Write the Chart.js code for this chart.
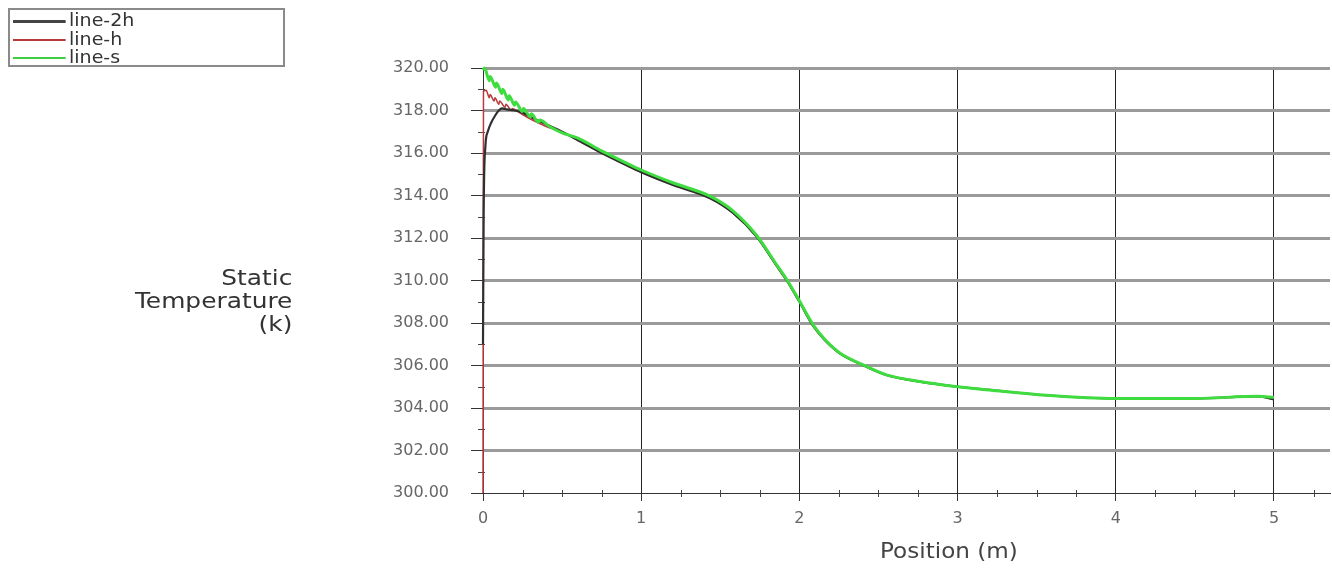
<!DOCTYPE html>
<html>
<head>
<meta charset="utf-8">
<script src="https://cdn.jsdelivr.net/npm/chart.js@4.4.0/dist/chart.umd.min.js"></script>
<style>
  body { margin: 0; background: #fff; }
  #wrap { position: relative; width: 1332px; height: 572px; font-family: "DejaVu Sans", sans-serif; }
  #legend { position: absolute; left: 8px; top: 8px; width: 273px; height: 55px; border: 2px solid #8a8a8a; }
  .row { position: absolute; left: 3px; height: 20px; font-size: 17px; line-height: 20px; color: #333; transform: scaleX(1.12); transform-origin: left center; white-space: nowrap; }
  .row span.sw { display: inline-block; width: 47px; vertical-align: middle; margin-right: 3px; }
  #ytitle { position: absolute; right: 1040px; top: 266px; text-align: right; font-size: 22px; line-height: 23px; color: #333; transform: scaleX(1.13); transform-origin: right center; }
  #xtitle { position: absolute; left: 880px; top: 538px; font-size: 22px; color: #444; transform: scaleX(1.05); transform-origin: left center; }
</style>
</head>
<body>
<div id="wrap">
  <canvas id="chart" width="1332" height="572"></canvas>
  <div id="legend">
    <div class="row" style="top:0px"><span class="sw" style="border-top:3px solid #444"></span>line-2h</div>
    <div class="row" style="top:19px"><span class="sw" style="border-top:2px solid #b83a3a"></span>line-h</div>
    <div class="row" style="top:37px"><span class="sw" style="border-top:2px solid #3fcf3f"></span>line-s</div>
  </div>
  <div id="ytitle">Static<br>Temperature<br>(k)</div>
  <div id="xtitle">Position (m)</div>
</div>
<script>
// shared positions of the part where the three curves overlap (after ~0.6 m)
const posTail = [0.6, 0.75, 0.9, 1.0, 1.2, 1.435, 1.58, 1.73, 1.86, 1.92, 2.0, 2.09, 2.24, 2.4, 2.55, 2.76, 3.0, 3.2, 3.56, 4.0, 4.5, 4.9, 5.0];
const tempTail = [316.6, 316.0, 315.45, 315.1, 314.5, 313.87, 313.18, 312.06, 310.65, 310.0, 309.0, 307.83, 306.65, 306.02, 305.55, 305.24, 305.0, 304.85, 304.6, 304.45, 304.45, 304.55, 304.4];
// line-s sits a touch above the others on the slope
const tempTailS = [316.7, 316.1, 315.55, 315.2, 314.6, 313.97, 313.28, 312.12, 310.7, 310.05, 309.05, 307.88, 306.68, 306.04, 305.56, 305.25, 305.0, 304.85, 304.6, 304.45, 304.45, 304.55, 304.5];

// start of each curve near the inlet
const pos2h = [0, 0.004, 0.015, 0.03, 0.05, 0.08, 0.1, 0.12, 0.15, 0.2, 0.25, 0.3, 0.4, 0.5];
const temp2h = [307.0, 313.0, 316.3, 317.0, 317.4, 317.8, 318.0, 318.1, 318.05, 318.0, 317.9, 317.7, 317.35, 317.0];

const posH = [0, 0.003, 0.02, 0.04, 0.045, 0.07, 0.075, 0.1, 0.105, 0.14, 0.145, 0.18, 0.185, 0.23, 0.3, 0.4, 0.5];
const tempH = [300, 318.9, 318.95, 318.6, 318.75, 318.45, 318.6, 318.3, 318.45, 318.15, 318.3, 318.0, 318.1, 317.9, 317.6, 317.25, 316.98];

const posS = [0, 0.01, 0.04, 0.045, 0.08, 0.085, 0.12, 0.125, 0.16, 0.165, 0.2, 0.205, 0.25, 0.255, 0.3, 0.305, 0.35, 0.36, 0.42, 0.5];
const tempS = [319.9, 320.0, 319.4, 319.6, 319.1, 319.3, 318.8, 319.0, 318.5, 318.7, 318.25, 318.4, 317.95, 318.1, 317.7, 317.85, 317.45, 317.55, 317.25, 316.95];

const yTicks = [300, 302, 304, 306, 308, 310, 312, 314, 316, 318, 320];
const xTicks = [0, 1, 2, 3, 4, 5];

function pts(xs, ys, tail) {
  const allY = ys.concat(tail);
  return xs.concat(posTail).map((x, i) => ({ x: x, y: allY[i] }));
}

// small minor ticks like the original plot
const minorTicks = {
  id: 'minorTicks',
  beforeDatasetsDraw(chart) {
    const { ctx, scales: { x, y } } = chart;
    ctx.save();
    ctx.strokeStyle = '#444';
    ctx.lineWidth = 1;
    ctx.beginPath();
    for (let v = 0.25; v < 5.35; v += 0.25) {
      if (Math.abs(v - Math.round(v)) < 0.01) continue;
      const px = Math.round(x.getPixelForValue(v)) + 0.5;
      ctx.moveTo(px, y.bottom - 3);
      ctx.lineTo(px, y.bottom + 4);
    }
    for (let v = 301; v < 320; v += 2) {
      const py = Math.round(y.getPixelForValue(v)) + 0.5;
      ctx.moveTo(x.left - 5, py);
      ctx.lineTo(x.left + 2, py);
    }
    ctx.stroke();
    ctx.restore();
  }
};

// first dataset is drawn on top, so line-s goes first
new Chart(document.getElementById('chart'), {
  type: 'line',
  data: {
    datasets: [
      { label: 'line-s', data: pts(posS, tempS, tempTailS), borderColor: '#3fdc3f', borderWidth: 3, clip: 4 },
      { label: 'line-2h', data: pts(pos2h, temp2h, tempTail), borderColor: '#2f2f2f', borderWidth: 2.2, clip: 4 },
      { label: 'line-h', data: pts(posH, tempH, tempTail), borderColor: '#b83a3a', borderWidth: 1.5, clip: 4 }
    ]
  },
  options: {
    responsive: false,
    animation: false,
    devicePixelRatio: 1,
    layout: { padding: { left: 0, top: 68, right: 2, bottom: 0 } },
    elements: { point: { radius: 0 }, line: { cubicInterpolationMode: 'monotone' } },
    plugins: { legend: { display: false }, tooltip: { enabled: false } },
    scales: {
      x: {
        type: 'linear',
        min: 0,
        max: 5.354,
        afterFit: s => { s.height = 79; },
        afterBuildTicks: s => { s.ticks = xTicks.map(v => ({ value: v })); },
        ticks: { padding: 8, color: '#666', font: { family: 'DejaVu Sans', size: 16 } },
        grid: { color: '#222', lineWidth: 1, tickLength: 8, tickColor: '#333', tickWidth: 1 },
        border: { color: '#333', width: 1 }
      },
      y: {
        min: 300,
        max: 320,
        afterFit: s => { s.width = 483; },
        afterBuildTicks: s => { s.ticks = yTicks.map(v => ({ value: v })); },
        ticks: { padding: 22, color: '#666', font: { family: 'DejaVu Sans', size: 16 }, callback: v => v.toFixed(2) },
        grid: {
          color: c => c.tick && c.tick.value === 300 ? 'rgba(0,0,0,0)' : '#9a9a9a',
          lineWidth: 3, tickLength: 12, tickColor: '#333', tickWidth: 1
        },
        border: { color: '#333', width: 1 }
      }
    }
  },
  plugins: [minorTicks]
});
</script>
</body>
</html>
